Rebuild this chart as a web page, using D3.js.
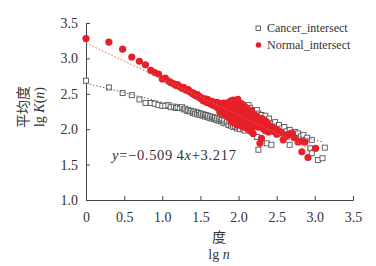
<!DOCTYPE html>
<html>
<head>
<meta charset="utf-8">
<script src="https://cdn.jsdelivr.net/npm/d3@7"></script>
<style>
  body { margin: 0; background: #fff; }
  text { font-family: "Liberation Serif", "Times New Roman", serif; fill: #333; }
  .cjk { font-family: "Noto Sans CJK SC", sans-serif; }
</style>
</head>
<body>
<div class="chart"></div>
<script>
// lg n and lg K(n) for the two networks
const cancerX = [0, 0.30, 0.48, 0.60, 0.70, 0.78, 0.85, 0.90, 0.95, 1.00, 1.04, 1.08, 1.11, 1.15, 1.18, 1.20, 1.23, 1.26, 1.28, 1.30,
  1.32, 1.34, 1.36, 1.38, 1.40, 1.41, 1.43, 1.45, 1.46, 1.48, 1.49, 1.51, 1.53, 1.54, 1.56, 1.57, 1.59, 1.60, 1.62, 1.63,
  1.65, 1.66, 1.68, 1.69, 1.71, 1.72, 1.74, 1.75, 1.77, 1.78, 1.80, 1.81, 1.83, 1.85, 1.87, 1.88, 1.90, 1.92, 1.93, 1.95,
  1.96, 1.98, 1.99, 2.00, 2.02, 2.04, 2.06, 2.08, 2.10, 2.13, 2.15, 2.18, 2.20, 2.22, 2.24, 2.24, 2.26, 2.26, 2.28, 2.30,
  2.32, 2.35, 2.37, 2.38, 2.40, 2.43, 2.45, 2.48, 2.50, 2.53, 2.56, 2.60, 2.63, 2.67, 2.67, 2.70, 2.74, 2.78, 2.82, 2.85,
  2.90, 2.94, 2.96, 2.96, 3.04, 3.10, 3.13];
const cancerY = [2.685, 2.59, 2.51, 2.48, 2.42, 2.37, 2.37, 2.36, 2.34, 2.33, 2.33, 2.34, 2.31, 2.32, 2.30, 2.31, 2.30, 2.31, 2.28, 2.29,
  2.26, 2.27, 2.25, 2.26, 2.23, 2.25, 2.22, 2.24, 2.21, 2.23, 2.20, 2.22, 2.19, 2.21, 2.18, 2.20, 2.17, 2.19, 2.16, 2.18,
  2.15, 2.17, 2.14, 2.16, 2.13, 2.15, 2.12, 2.14, 2.11, 2.13, 2.09, 2.12, 2.08, 2.10, 2.06, 2.11, 2.05, 2.07, 2.03, 2.04,
  2.09, 2.01, 2.06, 2.03, 2.00, 2.07, 2.00, 1.98, 2.04, 2.34, 2.30, 2.27, 2.25, 2.22, 2.27, 1.89, 2.22, 1.71, 2.17, 2.20,
  2.14, 2.19, 1.80, 2.12, 2.15, 1.78, 2.08, 2.10, 2.04, 2.06, 2.01, 2.03, 1.97, 1.99, 1.78, 1.95, 1.96, 1.94, 1.90, 1.92,
  1.88, 1.73, 1.85, 1.66, 1.565, 1.59, 1.74];

const normalX = [0, 0.30, 0.48, 0.60, 0.70, 0.78, 0.85, 0.90, 0.95, 1.00, 1.04, 1.08, 1.11, 1.15, 1.18, 1.20, 1.23, 1.26, 1.28, 1.30,
  1.32, 1.34, 1.36, 1.38, 1.40, 1.41, 1.43, 1.45, 1.46, 1.48, 1.49, 1.51, 1.52, 1.53, 1.54, 1.56, 1.57, 1.58, 1.59, 1.60,
  1.61, 1.62, 1.63, 1.64, 1.65, 1.66, 1.67, 1.68, 1.69, 1.70, 1.71, 1.72, 1.73, 1.74, 1.75, 1.76, 1.77, 1.78, 1.79, 1.80,
  1.81, 1.82, 1.83, 1.84, 1.85, 1.86, 1.87, 1.88, 1.89, 1.90, 1.91, 1.92, 1.93, 1.94, 1.95, 1.96, 1.97, 1.98, 1.99, 2.00,
  2.01, 2.02, 2.03, 2.04, 2.05, 2.06, 2.07, 2.08, 2.09, 2.10, 2.11, 2.12, 2.13, 2.14, 2.15, 2.16, 2.17, 2.18, 2.19, 2.20,
  2.21, 2.22, 2.23, 2.24, 2.25, 2.26, 2.27, 2.28, 2.29, 2.30, 2.31, 2.32, 2.33, 2.34, 2.35, 2.36, 2.37, 2.38, 2.39, 2.40,
  2.42, 2.44, 2.46, 2.48, 2.50, 2.52, 2.55, 2.585, 2.60, 2.63, 2.66, 2.70, 2.73, 2.78, 2.80, 2.83, 2.87, 2.91, 3.01,
  1.755, 1.775, 1.795, 1.815, 1.835, 1.855, 1.865, 1.875, 1.905, 1.915, 1.925, 1.935, 1.945, 1.955, 1.965, 1.975, 1.985, 1.995,
  2.005, 2.015, 2.025, 2.035, 2.045, 2.055, 2.065, 2.075, 2.085, 2.095, 2.105, 2.115, 2.125, 2.135, 2.145, 2.155, 2.165, 2.175];
const normalY = [3.28, 3.23, 3.13, 3.02, 2.96, 2.91, 2.83, 2.80, 2.78, 2.71, 2.72, 2.68, 2.66, 2.64, 2.62, 2.63, 2.60, 2.58, 2.59, 2.56,
  2.55, 2.56, 2.53, 2.52, 2.50, 2.51, 2.48, 2.47, 2.49, 2.45, 2.46, 2.43, 2.44, 2.42, 2.40, 2.43, 2.41, 2.38, 2.42, 2.39,
  2.37, 2.40, 2.36, 2.38, 2.35, 2.39, 2.34, 2.37, 2.33, 2.36, 2.32, 2.38, 2.30, 2.35, 2.33, 2.29, 2.36, 2.31, 2.34, 2.28,
  2.37, 2.30, 2.33, 2.26, 2.35, 2.29, 2.38, 2.31, 2.24, 2.40, 2.33, 2.27, 2.41, 2.30, 2.22, 2.39, 2.34, 2.25, 2.42, 2.31,
  2.19, 2.37, 2.28, 2.21, 2.35, 2.26, 2.16, 2.32, 2.23, 2.13, 2.29, 2.20, 2.27, 2.11, 2.24, 2.17, 2.26, 2.08, 1.94, 2.21,
  2.14, 2.05, 2.19, 2.11, 2.17, 2.03, 2.13, 1.80, 2.08, 1.87, 2.15, 2.01, 2.10, 2.05, 1.98, 2.11, 2.03, 2.07, 1.96, 2.05,
  2.00, 2.03, 1.97, 2.01, 1.93, 1.98, 1.95, 1.85, 1.92, 1.90, 1.93, 1.94, 1.88, 1.82, 1.83, 1.68, 1.82, 1.60, 1.73,
  2.24, 2.25, 2.22, 2.24, 2.20, 2.18, 2.22, 2.16, 2.12, 2.18, 2.10, 2.15, 2.20, 2.08, 2.14, 2.18, 2.06, 2.12,
  2.09, 2.15, 2.06, 2.11, 2.04, 2.09, 2.13, 2.03, 2.07, 2.10, 2.02, 2.06, 2.00, 2.04, 1.99, 2.02, 1.97, 2.01];

// dotted fit lines: [x, y] end points
const cancerFit = [[0, 2.65], [3.1, 1.82]];
const normalFit = [[0, 3.217], [3.0, 1.689]];

const xTicks = [0, 0.5, 1.0, 1.5, 2.0, 2.5, 3.0, 3.5];
const yTicks = [1.0, 1.5, 2.0, 2.5, 3.0, 3.5];
const legendNames = ["Cancer_intersect", "Normal_intersect"];

const w = 376, h = 266;
const margin = {top: 23, right: 23, bottom: 66, left: 86};

const red = "#e6202a";
const serif = "'Liberation Serif', 'Times New Roman', serif";

let svg = d3.select(".chart").append("svg")
  .attr("width", w)
  .attr("height", h);

let xScale = d3.scaleLinear().domain([0, 3.5]).range([margin.left, w - margin.right]);
let yScale = d3.scaleLinear().domain([1.0, 3.5]).range([h - margin.bottom, margin.top]);

const fmt = d => d === 0 ? "0" : d3.format(".1f")(d);

let xaxis = svg.append("g")
  .attr("transform", "translate(0," + yScale(1.0) + ")")
  .call(d3.axisBottom(xScale).tickValues(xTicks).tickSize(-4).tickFormat(fmt))
  .attr("font-family", serif)
  .attr("font-size", 14);
xaxis.selectAll("text").attr("y", 12);

let yaxis = svg.append("g")
  .attr("transform", "translate(" + xScale(0) + ",0)")
  .call(d3.axisLeft(yScale).tickValues(yTicks).tickSize(-4).tickFormat(fmt))
  .attr("font-family", serif)
  .attr("font-size", 14);
yaxis.selectAll("text").attr("x", -8);

svg.selectAll(".domain").attr("stroke", "#444");
svg.selectAll(".tick line").attr("stroke", "#444");
svg.selectAll(".tick text").attr("fill", "#333");

// squares first, circles on top
const cancer = cancerX.map((x, i) => ({x: x, y: cancerY[i]}));
const normal = normalX.map((x, i) => ({x: x, y: normalY[i]}));

const sq = 5;
svg.selectAll(".cancer")
  .data(cancer)
  .enter().append("rect")
  .attr("class", "cancer")
  .attr("x", d => xScale(d.x) - sq / 2)
  .attr("y", d => yScale(d.y) - sq / 2)
  .attr("width", sq)
  .attr("height", sq)
  .attr("fill", "#fff")
  .attr("stroke", "#555")
  .attr("stroke-width", 0.9);

let line = d3.line().x(d => xScale(d[0])).y(d => yScale(d[1]));

svg.append("path")
  .datum(cancerFit)
  .attr("d", line)
  .attr("fill", "none")
  .attr("stroke", "#666")
  .attr("stroke-width", 1)
  .attr("stroke-dasharray", "1.5,2");

svg.selectAll(".normal")
  .data(normal)
  .enter().append("circle")
  .attr("class", "normal")
  .attr("cx", d => xScale(d.x))
  .attr("cy", d => yScale(d.y))
  .attr("r", 3.6)
  .attr("fill", red);

svg.append("path")
  .datum(normalFit)
  .attr("d", line)
  .attr("fill", "none")
  .attr("stroke", "#e4643f")
  .attr("stroke-width", 1)
  .attr("stroke-dasharray", "1.5,2");

// equation
let eq = svg.append("text")
  .attr("x", 112)
  .attr("y", 160)
  .style("font-size", "14.5px")
  .style("letter-spacing", "0.7px");
eq.append("tspan").style("font-style", "italic").text("y");
eq.append("tspan").text("=−0.509\u20094");
eq.append("tspan").style("font-style", "italic").text("x");
eq.append("tspan").text("+3.217");

// legend
let legend = svg.append("g");
legend.append("rect")
  .attr("x", 256).attr("y", 26).attr("width", 4.5).attr("height", 4.5)
  .attr("fill", "#fff").attr("stroke", "#555").attr("stroke-width", 0.9);
legend.append("circle")
  .attr("cx", 258.5).attr("cy", 45).attr("r", 2.8).attr("fill", red);
legend.selectAll(".leg")
  .data(legendNames)
  .enter().append("text")
  .attr("x", 267)
  .attr("y", (d, i) => 32 + i * 17)
  .style("font-size", "12px")
  .text(d => d);

// axis titles
svg.append("text")
  .attr("class", "cjk")
  .attr("transform", "translate(28,107) rotate(-90)")
  .attr("text-anchor", "middle")
  .style("font-size", "14px")
  .text("平均度");

let yl = svg.append("text")
  .attr("transform", "translate(44,107) rotate(-90)")
  .attr("text-anchor", "middle")
  .style("font-size", "14px");
yl.append("tspan").text("lg ");
yl.append("tspan").style("font-style", "italic").text("K");
yl.append("tspan").text("(");
yl.append("tspan").style("font-style", "italic").text("n");
yl.append("tspan").text(")");

svg.append("text")
  .attr("class", "cjk")
  .attr("x", 219)
  .attr("y", 242)
  .attr("text-anchor", "middle")
  .style("font-size", "14px")
  .text("度");

let xl = svg.append("text")
  .attr("x", 219)
  .attr("y", 259)
  .attr("text-anchor", "middle")
  .style("font-size", "14px");
xl.append("tspan").text("lg ");
xl.append("tspan").style("font-style", "italic").text("n");
</script>
</body>
</html>
